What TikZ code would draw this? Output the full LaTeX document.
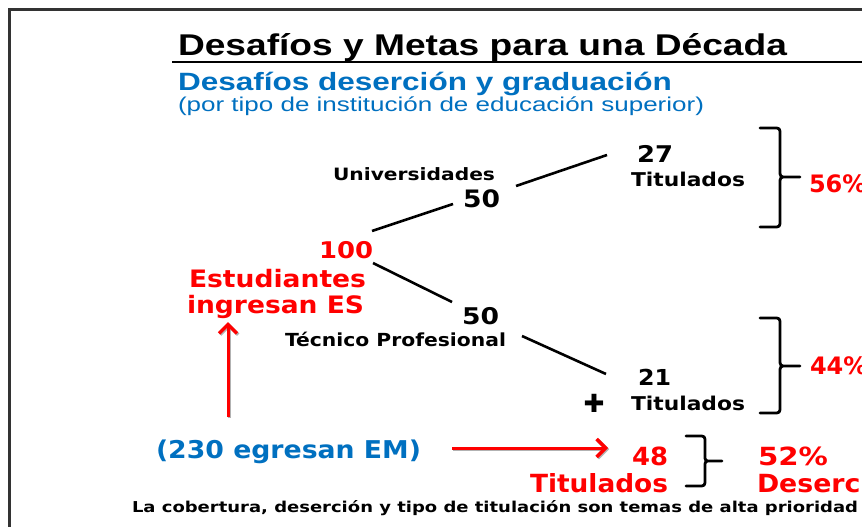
\documentclass[tikz,border=0pt]{standalone}
\usepackage{fontspec}
\usepackage{graphicx}
\setmainfont{DejaVu Sans}
\newfontfamily\lib{Liberation Sans}
\usetikzlibrary{arrows.meta}
\definecolor{offblue}{HTML}{0070C0}
\definecolor{pred}{HTML}{FF0000}
\newcommand\fw[2]{\resizebox{#1pt}{\height}{#2}}
\newcommand\fs[1]{\fontsize{#1}{#1}\selectfont}
\tikzset{
  txt/.style={inner sep=0pt, outer sep=0pt, anchor=base west},
  link/.style={line width=2.6pt, black},
  brc/.style={line width=2.8pt, black, line cap=round, line join=round},
  redarrow/.style={line width=3pt, pred, -{Straight Barb[length=9pt,width=18pt,line width=3.4pt]}},
  shadowarrow/.style={line width=3pt, black!30, -{Straight Barb[length=9pt,width=18pt,line width=3.4pt]}},
}
\begin{document}
\begin{tikzpicture}[x=1pt,y=-1pt]
\useasboundingbox (0,0) rectangle (862,527);
\clip (0,0) rectangle (862,527);
\fill[white] (0,0) rectangle (862,527);
% frame
\draw[line width=2.6pt, black!80] (9.5,560) -- (9.5,9.5) -- (900,9.5);
% title
\node[txt] (title) at (178,56) {\lib\bfseries\fs{30}\fw{609}{Desafíos y Metas para una Década}};
\draw[line width=1.4pt] (172,62) -- (900,62);
\node[txt, text=offblue] (sub1) at (178,90) {\lib\bfseries\fs{25}\fw{494}{Desafíos deserción y graduación}};
\node[txt, text=offblue] (sub2) at (178,111) {\lib\fs{20}\fw{526}{(por tipo de institución de educación superior)}};
% tree
\node[txt] (univ) at (333,180) {\bfseries\fs{17}\fw{162}{Universidades}};
\node[txt] (u50) at (463,207) {\bfseries\fs{24}\fw{37}{50}};
\node[txt] (n27) at (637,162) {\bfseries\fs{23}\fw{36}{27}};
\node[txt] (tit1) at (631,186) {\bfseries\fs{19}\fw{114}{Titulados}};
\node[txt, text=pred] (n100) at (319,258) {\bfseries\fs{23}\fw{54}{100}};
\node[txt, text=pred] (est) at (189,287) {\bfseries\fs{24}\fw{177}{Estudiantes}};
\node[txt, text=pred] (ing) at (187,313) {\bfseries\fs{24}\fw{177}{ingresan ES}};
\node[txt] (l50) at (462,324) {\bfseries\fs{23}\fw{37}{50}};
\node[txt] (tec) at (285,346) {\bfseries\fs{18}\fw{221}{Técnico Profesional}};
\node[txt] (n21) at (638,385) {\bfseries\fs{22}\fw{33}{21}};
\node[txt] (tit2) at (631,410) {\bfseries\fs{19}\fw{114}{Titulados}};
\node[inner sep=0pt] (plus) at (594,403) {\fs{25}✚};
\node[txt, text=pred] (p56) at (809,192) {\bfseries\fs{24}56\%};
\node[txt, text=pred] (p44) at (810,374) {\bfseries\fs{24}44\%};
% bottom
\node[txt, text=offblue] (egr) at (156,458) {\bfseries\fs{24.5}\fw{265}{(230 egresan EM)}};
\node[txt, text=pred] (n48) at (632,465) {\bfseries\fs{25}\fw{36}{48}};
\node[txt, text=pred] (tit3) at (530,492) {\bfseries\fs{25}\fw{138}{Titulados}};
\node[txt, text=pred] (p52) at (758,465) {\bfseries\fs{25}\fw{70}{52\%}};
\node[txt, text=pred] (des) at (757,492) {\bfseries\fs{25}\scalebox{1.07}[1]{Deserción}};
\node[txt] (bot) at (132,512) {\bfseries\fs{15}\fw{726}{La cobertura, deserción y tipo de titulación son temas de alta prioridad}};
% connector end points
\coordinate (c1a) at (372,231); \coordinate (c1b) at (453,204);
\coordinate (c2a) at (516,186); \coordinate (c2b) at (607,155);
\coordinate (c3a) at (373,263); \coordinate (c3b) at (452,302);
\coordinate (c4a) at (522,336); \coordinate (c4b) at (606,374);
\draw[link] (c1a) -- (c1b);
\draw[link] (c2a) -- (c2b);
\draw[link] (c3a) -- (c3b);
\draw[link] (c4a) -- (c4b);
% red arrows
\coordinate (va) at (228,417); \coordinate (vb) at (228,322);
\coordinate (ha) at (452,448); \coordinate (hb) at (608,448);
\draw[shadowarrow] ([shift={(1.2,1.2)}]va) -- ([shift={(1.2,1.2)}]vb);
\draw[redarrow] (va) -- (vb);
\draw[shadowarrow] ([shift={(1.2,1.2)}]ha) -- ([shift={(1.2,1.2)}]hb);
\draw[redarrow] (ha) -- (hb);
% braces
\draw[brc] (760,128) -- (773,128) .. controls (780,128) .. (780,135) -- (780,170) .. controls (780,177) .. (787,177) -- (800,177)
  (787,177) .. controls (780,177) .. (780,184) -- (780,220) .. controls (780,227) .. (773,227) -- (760,227);
\draw[brc] (760,318) -- (773,318) .. controls (780,318) .. (780,325) -- (780,359) .. controls (780,366) .. (787,366) -- (800,366)
  (787,366) .. controls (780,366) .. (780,373) -- (780,406) .. controls (780,413) .. (773,413) -- (760,413);
\draw[brc] (686,436) -- (698,436) .. controls (705,436) .. (705,443) -- (705,455) .. controls (705,461) .. (711,461) -- (722,461)
  (711,461) .. controls (705,461) .. (705,467) -- (705,479) .. controls (705,486) .. (698,486) -- (686,486);
\end{tikzpicture}
\end{document}
